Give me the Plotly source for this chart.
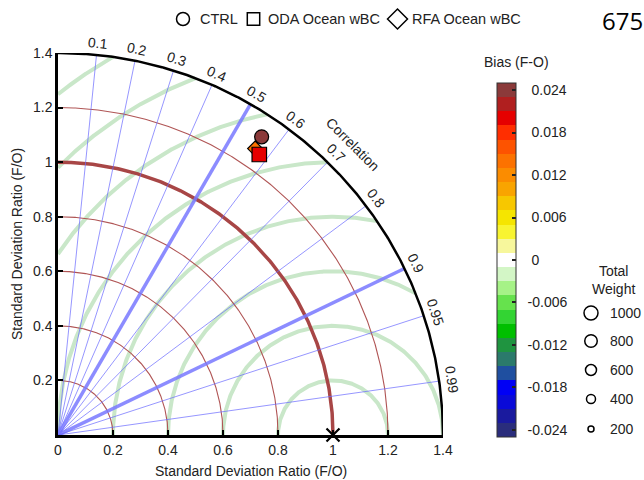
import numpy as np
import plotly.graph_objects as go

# ---------------- data ----------------
models = ["CTRL", "ODA Ocean wBC", "RFA Ocean wBC"]
std_ratio = [1.320, 1.262, 1.271]
correlation = [0.561, 0.580, 0.564]
bias = [0.0238, 0.0200, 0.0150]

corr_ticks = [0.1, 0.2, 0.3, 0.4, 0.5, 0.6, 0.7, 0.8, 0.9, 0.95, 0.99]
corr_major = [0.5, 0.9]
std_levels = [0.2, 0.4, 0.6, 0.8, 1.0, 1.2]
rms_levels = [0.2, 0.4, 0.6, 0.8, 1.0, 1.2, 1.4, 1.6]
axis_ticks = [0, 0.2, 0.4, 0.6, 0.8, 1.0, 1.2, 1.4]
axis_ticktext = ["0", "0.2", "0.4", "0.6", "0.8", "1", "1.2", "1.4"]

bias_ticks = [-0.024, -0.018, -0.012, -0.006, 0, 0.006, 0.012, 0.018, 0.024]
bias_ticktext = ["-0.024", "-0.018", "-0.012", "-0.006", "0", "0.006", "0.012", "0.018", "0.024"]
bias_colors = [  # bottom (-0.024) to top (0.024), step 0.002
    "#2a2d7c", "#1a1a9e", "#0a0ad8", "#0000f5", "#1f4fa0", "#2b7a6b",
    "#1f9440", "#00bf00", "#33d433", "#66e24d", "#a6f287", "#d3f6c6",
    "#ffffff",
    "#f7f79c", "#f8f431", "#f5e500", "#f7c700", "#f9a400", "#fb8c00",
    "#fc7200", "#fd5300", "#ff2e00", "#e50000", "#b01f1f", "#8b3a3a",
]
weight_levels = [1000, 800, 600, 400, 200]

# ---------------- styles ----------------
FONT = "Liberation Sans"
TXT = "#222222"
R_MAX = 1.4
symbols = {"CTRL": "circle", "ODA Ocean wBC": "square", "RFA Ocean wBC": "diamond"}
msize = {"CTRL": 14, "ODA Ocean wBC": 14.5, "RFA Ocean wBC": 11.5}
draw_order = ["CTRL", "RFA Ocean wBC", "ODA Ocean wBC"]
weight_px = {1000: 14, 800: 12.5, 600: 11, 400: 9, 200: 6}

L, R, T, B = 58, 201, 53, 45
W, H = 644, 480
PW, PH = W - L - R, H - T - B


def px(xp):
    return (xp - L) / PW


def py(yp):
    return (H - B - yp) / PH


fig = go.Figure()

# RMS (green) arcs centred on the reference point
for d in rms_levels:
    pmin = np.arccos(np.clip((R_MAX**2 - 1 - d**2) / (2 * d), -1, 1))
    pmax = np.arccos(np.clip(-1 / d, -1, 1))
    ph = np.linspace(pmin, pmax, 300)
    fig.add_trace(go.Scatter(x=1 + d * np.cos(ph), y=d * np.sin(ph), mode="lines",
                             line=dict(color="#c9e7c9", width=4), hoverinfo="skip",
                             showlegend=False, cliponaxis=False))

# std-ratio (red) arcs
th = np.linspace(0, np.pi / 2, 300)
for s in std_levels:
    wide = abs(s - 1.0) < 1e-9
    fig.add_trace(go.Scatter(x=s * np.cos(th), y=s * np.sin(th), mode="lines",
                             line=dict(color="#a84646" if wide else "#b05555",
                                       width=3.5 if wide else 1.1),
                             hoverinfo="skip", showlegend=False, cliponaxis=False))

# correlation (blue) rays
for c in corr_ticks:
    a = np.arccos(c)
    major = c in corr_major
    fig.add_trace(go.Scatter(x=[0, R_MAX * np.cos(a)], y=[0, R_MAX * np.sin(a)], mode="lines",
                             line=dict(color="rgba(120,120,255,0.85)" if major else "rgba(105,105,255,0.7)",
                                       width=3.5 if major else 1.0),
                             hoverinfo="skip", showlegend=False, cliponaxis=False))

# outer arc
fig.add_trace(go.Scatter(x=R_MAX * np.cos(th), y=R_MAX * np.sin(th), mode="lines",
                         line=dict(color="black", width=2.5), hoverinfo="skip",
                         showlegend=False, cliponaxis=False))

# reference point
fig.add_trace(go.Scatter(x=[1.0], y=[0.0], mode="markers",
                         marker=dict(symbol="x-thin", size=13, line=dict(color="black", width=2.2)),
                         hoverinfo="skip", showlegend=False, cliponaxis=False))

# model points
for name in draw_order:
    i = models.index(name)
    r, c = std_ratio[i], correlation[i]
    fig.add_trace(go.Scatter(x=[r * c], y=[r * np.sqrt(1 - c**2)], mode="markers", name=name,
                             marker=dict(symbol=symbols[name], size=msize[name], color=[bias[i]],
                                         coloraxis="coloraxis", line=dict(color="black", width=1.2)),
                             showlegend=False, cliponaxis=False))

# discrete colour scale
n = len(bias_colors)
cs = []
for k, col in enumerate(bias_colors):
    cs.append([k / n, col])
    cs.append([(k + 1) / n, col])

annotations = []
shapes = []

# correlation labels (paper coordinates so they are not hidden outside the axis range)
for c in corr_ticks:
    a = np.arccos(c)
    rl = 1.445
    annotations.append(dict(x=rl * np.cos(a) / R_MAX, y=rl * np.sin(a) / R_MAX, xref="paper", yref="paper",
                            text=f"{c:g}", showarrow=False, textangle=90 - np.degrees(a),
                            xanchor="center", yanchor="middle",
                            font=dict(family=FONT, size=14, color=TXT)))
ca = np.radians(44.9)
annotations.append(dict(x=1.513 * np.cos(ca) / R_MAX, y=1.513 * np.sin(ca) / R_MAX,
                        xref="paper", yref="paper", text="Correlation", showarrow=False, textangle=45,
                        xanchor="center", yanchor="middle",
                        font=dict(family=FONT, size=14, color=TXT)))

# x-axis title
annotations.append(dict(x=0.5, y=py(471), xref="paper", yref="paper",
                        text="Standard Deviation Ratio (F/O)", showarrow=False,
                        xanchor="center", yanchor="middle",
                        font=dict(family=FONT, size=14, color=TXT)))

# top legend
leg_y = 19
shapes.append(dict(type="circle", xref="paper", yref="paper", xsizemode="pixel", ysizemode="pixel",
                   xanchor=px(183), yanchor=py(leg_y), x0=-6.5, x1=6.5, y0=-6.5, y1=6.5,
                   line=dict(color="black", width=1.5)))
shapes.append(dict(type="rect", xref="paper", yref="paper", xsizemode="pixel", ysizemode="pixel",
                   xanchor=px(253.5), yanchor=py(leg_y), x0=-6.2, x1=6.2, y0=-6.2, y1=6.2,
                   line=dict(color="black", width=1.5)))
shapes.append(dict(type="path", xref="paper", yref="paper",
                   path=f"M {px(387.5)} {py(leg_y)} L {px(397.5)} {py(leg_y-10)} L {px(407.5)} {py(leg_y)} "
                        f"L {px(397.5)} {py(leg_y+10)} Z",
                   line=dict(color="black", width=1.5)))
for name, x0 in zip(models, [198, 266, 410]):
    annotations.append(dict(x=px(x0), y=py(leg_y), xref="paper", yref="paper", text=name,
                            showarrow=False, xanchor="left", yanchor="middle",
                            font=dict(family=FONT, size=14.5, color=TXT)))

# colorbar title
annotations.append(dict(x=px(516), y=py(62), xref="paper", yref="paper", text="Bias (F-O)",
                        showarrow=False, xanchor="center", yanchor="middle",
                        font=dict(family=FONT, size=14, color=TXT)))

# total weight legend
annotations.append(dict(x=px(613), y=py(280), xref="paper", yref="paper", text="Total<br>Weight",
                        showarrow=False, xanchor="center", yanchor="middle",
                        font=dict(family=FONT, size=14, color=TXT)))
for wv, yy in zip(weight_levels, [313, 341, 370, 399, 429]):
    rpx = weight_px[wv] / 2
    shapes.append(dict(type="circle", xref="paper", yref="paper", xsizemode="pixel", ysizemode="pixel",
                       xanchor=px(591), yanchor=py(yy), x0=-rpx, x1=rpx, y0=-rpx, y1=rpx,
                       line=dict(color="black", width=1.5)))
    annotations.append(dict(x=px(608), y=py(yy), xref="paper", yref="paper", text=str(wv),
                            showarrow=False, xanchor="left", yanchor="middle",
                            font=dict(family=FONT, size=14, color=TXT)))

# stray page number at the top right
annotations.append(dict(x=px(600), y=py(21), xref="paper", yref="paper", text="675",
                        showarrow=False, xanchor="left", yanchor="middle",
                        font=dict(family="Open Sans", size=24, color="black")))

axis_common = dict(range=[0, R_MAX], showline=True, linecolor="black", linewidth=2.5,
                   ticks="inside", ticklen=5, tickwidth=2, tickcolor="black", automargin=False,
                   showgrid=False, zeroline=False, tickfont=dict(family=FONT, size=14, color=TXT),
                   fixedrange=True)

fig.update_layout(
    width=W, height=H, margin=dict(l=L, r=R, t=T, b=B, autoexpand=False),
    paper_bgcolor="white", plot_bgcolor="white", showlegend=False,
    font=dict(family=FONT, size=14, color=TXT),
    xaxis=dict(**axis_common, tickvals=axis_ticks, ticktext=axis_ticktext),
    yaxis=dict(**axis_common, tickvals=axis_ticks[1:], ticktext=axis_ticktext[1:],
               title=dict(text="Standard Deviation Ratio (F/O)", standoff=8,
                          font=dict(family=FONT, size=14, color=TXT))),
    coloraxis=dict(colorscale=cs, cmin=-0.025, cmax=0.025,
                   colorbar=dict(x=px(497), xanchor="left", xpad=0, y=py(260), yanchor="middle",
                                 ypad=0, len=354, lenmode="pixels", thickness=19,
                                 thicknessmode="pixels", outlinewidth=1, outlinecolor="#333",
                                 ticks="inside", ticklen=4, tickwidth=1.5, tickcolor="#222",
                                 tickvals=bias_ticks,
                                 ticktext=[("\u00a0\u00a0" if t.startswith("-") else "\u00a0\u00a0\u00a0") + t
                                           for t in bias_ticktext],
                                 tickfont=dict(family=FONT, size=14, color=TXT))),
    annotations=annotations, shapes=shapes,
)

fig.write_html("out.html")
